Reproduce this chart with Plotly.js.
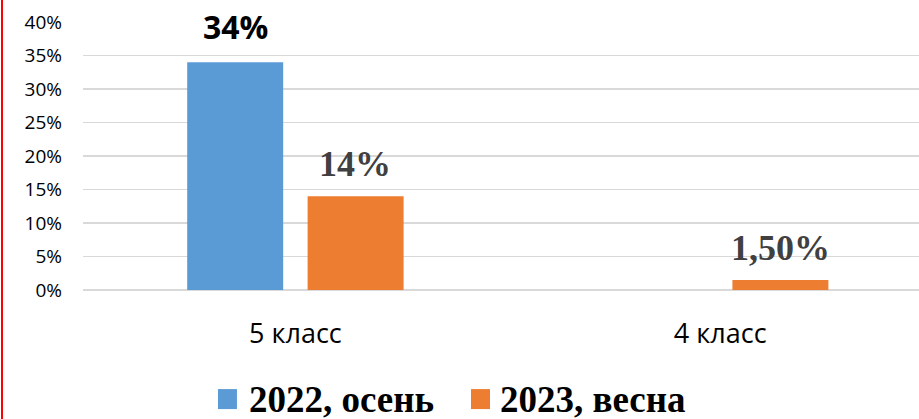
<!DOCTYPE html>
<html>
<head>
<meta charset="utf-8">
<script src="https://cdn.plot.ly/plotly-3.0.1.min.js"></script>
<style>
  html, body { margin: 0; padding: 0; background: #fff; }
  #wrap { position: relative; width: 919px; height: 419px; }
  #chart { width: 919px; height: 419px; }
  #redline { position: absolute; left: 1px; top: 0; width: 2px; height: 419px; background: #ff0000; }
</style>
</head>
<body>
<div id="wrap">
  <div id="chart"></div>
  <div id="redline"></div>
</div>
<script>
// ---- data ----
var categories = ["5 класс", "4 класс"];
var seriesNames = ["2022, осень", "2023, весна"];
var values2022 = [0.34, null];
var values2023 = [0.14, 0.015];
var labels2022 = ["34%", ""];
var labels2023 = ["14%", "1,50%"];
var yTickVals = [0, 0.05, 0.10, 0.15, 0.20, 0.25, 0.30, 0.35, 0.40];
var yTickText = ["0%", "5%", "10%", "15%", "20%", "25%", "30%", "35%", "40%"];

// ---- styles ----
var colors = ["#5B9BD5", "#ED7D31"];
var allValues = [values2022, values2023];
var allLabels = [labels2022, labels2023];
var labelFonts = [
  {family: "Open Sans, Lato, sans-serif", size: 32, color: "#000000", weight: 700},
  {family: "Liberation Serif, Times New Roman, serif", size: 36, color: "#404040", weight: 700}
];
var labelShift = [-60, 60];
var labelYShift = [12, 10];

var traces = allValues.map(function (vals, i) {
  return {
    type: "bar",
    x: categories,
    y: vals,
    name: seriesNames[i],
    marker: {color: colors[i]},
    showlegend: false,
    hoverinfo: "skip"
  };
});

var annotations = [];
allValues.forEach(function (vals, i) {
  vals.forEach(function (v, j) {
    if (v === null || !allLabels[i][j]) return;
    annotations.push({
      x: categories[j], y: v, xref: "x", yref: "y",
      text: "<b>" + allLabels[i][j] + "</b>",
      showarrow: false, xanchor: "center", yanchor: "bottom",
      xshift: labelShift[i], yshift: labelYShift[i],
      font: labelFonts[i]
    });
  });
});

// custom legend
var legendSquareX = [0.1728, 0.4755];
var legendTextX = [0.1962, 0.4964];
var legendY = -0.407;
var shapes = [];
seriesNames.forEach(function (n, i) {
  shapes.push({
    type: "rect", xref: "paper", yref: "paper",
    xsizemode: "pixel", ysizemode: "pixel",
    xanchor: legendSquareX[i], yanchor: legendY,
    x0: -9.5, x1: 9.5, y0: -10, y1: 10,
    fillcolor: colors[i], line: {width: 0}
  });
  annotations.push({
    x: legendTextX[i], y: legendY, xref: "paper", yref: "paper",
    text: "<b>" + n + "</b>", showarrow: false,
    xanchor: "left", yanchor: "middle",
    font: {family: "Liberation Serif, Times New Roman, serif", size: 37, color: "#000000"}
  });
});

var layout = {
  width: 919, height: 419,
  margin: {l: 83, r: 0, t: 22, b: 129, pad: 0},
  paper_bgcolor: "#ffffff", plot_bgcolor: "#ffffff",
  barmode: "group",
  bargap: 0.433,
  bargroupgap: 0.203,
  showlegend: false,
  xaxis: {
    type: "category",
    range: [-0.5, 1.468],
    showgrid: false, zeroline: false, showline: false,
    ticks: "", ticklabelstandoff: 25,
    tickfont: {family: "Open Sans, sans-serif", size: 27, color: "#000000"},
    fixedrange: true
  },
  yaxis: {
    range: [0, 0.4],
    tickvals: yTickVals, ticktext: yTickText,
    showgrid: true, gridcolor: "#d9d9d9", gridwidth: 1.5,
    zeroline: true, zerolinecolor: "#d9d9d9", zerolinewidth: 1.5,
    showline: false, ticks: "", ticklabelstandoff: 20,
    tickfont: {family: "Open Sans, sans-serif", size: 19, color: "#000000"},
    fixedrange: true
  },
  annotations: annotations,
  shapes: shapes
};

Plotly.newPlot("chart", traces, layout, {displayModeBar: false, staticPlot: true});
</script>
</body>
</html>
